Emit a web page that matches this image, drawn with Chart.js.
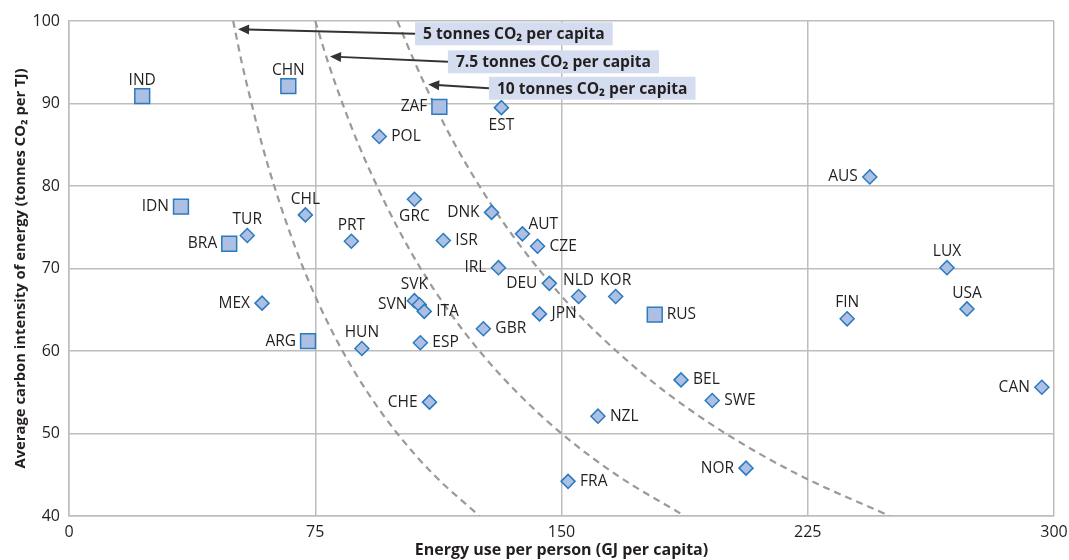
<!DOCTYPE html>
<html>
<head>
<meta charset="utf-8">
<script src="https://cdn.jsdelivr.net/npm/chart.js@4.4.1/dist/chart.umd.min.js"></script>
<style>
  html, body { margin: 0; padding: 0; background: #fff; }
  #wrap { width: 1069px; height: 560px; }
</style>
</head>
<body>
<div id="wrap"><canvas id="chart"></canvas></div>
<script>
// OECD countries (diamonds)
const oecdCodes = ["EST", "POL", "AUS", "CHL", "GRC", "DNK", "TUR", "PRT", "ISR", "AUT", "CZE", "IRL", "DEU", "NLD", "KOR", "LUX", "USA", "FIN", "MEX", "SVK", "SVN", "ITA", "JPN", "GBR", "HUN", "ESP", "BEL", "SWE", "CAN", "CHE", "NZL", "NOR", "FRA"];
const oecdEnergy = [131.7, 94.5, 243.9, 72.0, 105.2, 128.7, 54.3, 86.0, 114.0, 138.1, 142.7, 130.8, 146.3, 155.2, 166.5, 267.4, 273.5, 237.0, 58.8, 105.2, 106.7, 108.2, 143.3, 126.2, 89.2, 107.0, 186.4, 195.9, 296.3, 109.8, 161.1, 206.2, 152.0];
const oecdIntensity = [89.5, 86.0, 81.1, 76.5, 78.4, 76.8, 74.0, 73.3, 73.4, 74.2, 72.7, 70.1, 68.2, 66.6, 66.6, 70.1, 65.1, 63.9, 65.8, 66.1, 65.6, 64.8, 64.5, 62.7, 60.3, 61.0, 56.5, 54.0, 55.6, 53.8, 52.1, 45.8, 44.2];
const oecdLabelSide = ["below", "right", "left", "above", "below", "left", "above", "above", "right", "aboveright", "right", "left", "left", "above", "above", "above", "above", "above", "left", "above", "left", "right", "right", "right", "above", "right", "right", "right", "left", "left", "right", "left", "right"];

// partner economies (squares)
const partnerCodes = ["IND", "CHN", "ZAF", "IDN", "BRA", "ARG", "RUS"];
const partnerEnergy = [22.3, 66.8, 112.8, 34.1, 48.8, 72.8, 178.4];
const partnerIntensity = [90.9, 92.1, 89.6, 77.5, 73.0, 61.2, 64.4];
const partnerLabelSide = ["above", "above", "left", "left", "left", "left", "right"];

// iso-emission curves (tonnes CO2 per capita), read along the intensity steps
const curveLevels = ["5 tonnes CO₂ per capita", "7.5 tonnes CO₂ per capita", "10 tonnes CO₂ per capita"];
const curveIntensity = [100, 95, 90, 85, 80, 75, 70, 65, 60, 55, 50, 45, 40];
const curve5Energy = [50, 52.6, 55.6, 58.8, 62.5, 66.7, 71.4, 76.9, 83.3, 90.9, 100, 111.1, 125];
const curve75Energy = [75, 78.9, 83.3, 88.2, 93.8, 100, 107.1, 115.4, 125, 136.4, 150, 166.7, 187.5];
const curve10Energy = [100, 105.3, 111.1, 117.6, 125, 133.3, 142.9, 153.8, 166.7, 181.8, 200, 222.2, 250];

// annotation boxes: [box left x, box centre y] and arrow tip [x, y], in data units
const boxAnchors = [[105.4, 98.45], [115.4, 95.05], [127.9, 91.85]];
const arrowTips = [[51.5, 99.0], [79.5, 95.7], [109.4, 92.3]];

const FONT = "'Open Sans', 'Noto Sans', sans-serif";
const textColor = "#231f20";
const gridColor = "#bdbdbd";
const markerFill = "#adc0e4";
const markerBorder = "#2a7abf";
const curveColor = "#9a9a9a";

const toPoints = (xs, ys) => xs.map((x, i) => ({ x: x, y: ys[i] }));

const curveDataset = (xs) => ({
  type: "line",
  data: toPoints(xs, curveIntensity),
  showLine: true,
  borderColor: curveColor,
  borderWidth: 2.2,
  borderDash: [7, 5],
  pointRadius: 0,
  cubicInterpolationMode: "monotone",
  fill: false,
  order: 5,
});

const pointLabels = {
  id: "pointLabels",
  afterDatasetsDraw(chart) {
    const ctx = chart.ctx;
    const groups = [
      [0, oecdCodes, oecdLabelSide],
      [1, partnerCodes, partnerLabelSide],
    ];
    ctx.save();
    ctx.font = "15.5px " + FONT;
    ctx.fillStyle = textColor;
    groups.forEach(([idx, codes, sides]) => {
      chart.getDatasetMeta(idx).data.forEach((el, i) => {
        const side = sides[i];
        let x = el.x;
        let y = el.y;
        if (side === "right") {
          ctx.textAlign = "left"; ctx.textBaseline = "middle"; x += 12;
        } else if (side === "left") {
          ctx.textAlign = "right"; ctx.textBaseline = "middle"; x -= 12;
        } else if (side === "above") {
          ctx.textAlign = "center"; ctx.textBaseline = "bottom"; y -= 8;
        } else if (side === "below") {
          ctx.textAlign = "center"; ctx.textBaseline = "top"; y += 10;
        } else {
          ctx.textAlign = "left"; ctx.textBaseline = "bottom"; x += 6; y -= 2;
        }
        ctx.fillText(codes[i], x, y);
      });
    });
    ctx.restore();
  },
};

const curveNotes = {
  id: "curveNotes",
  afterDatasetsDraw(chart) {
    const ctx = chart.ctx;
    const xs = chart.scales.x;
    const ys = chart.scales.y;
    ctx.save();
    ctx.font = "bold 15.6px " + FONT;
    ctx.textBaseline = "middle";
    ctx.textAlign = "left";
    curveLevels.forEach((text, i) => {
      const bx = xs.getPixelForValue(boxAnchors[i][0]);
      const by = ys.getPixelForValue(boxAnchors[i][1]);
      const tx = xs.getPixelForValue(arrowTips[i][0]);
      const ty = ys.getPixelForValue(arrowTips[i][1]);
      const w = ctx.measureText(text).width + 16;
      ctx.fillStyle = "#d4ddef";
      ctx.fillRect(bx, by - 11.5, w, 23);
      ctx.fillStyle = textColor;
      ctx.fillText(text, bx + 8, by + 1);

      // arrow
      const ang = Math.atan2(ty - by, tx - bx);
      const hl = 11;
      ctx.strokeStyle = "#333";
      ctx.lineWidth = 2;
      ctx.beginPath();
      ctx.moveTo(bx, by);
      ctx.lineTo(tx - Math.cos(ang) * hl * 0.8, ty - Math.sin(ang) * hl * 0.8);
      ctx.stroke();
      ctx.fillStyle = "#333";
      ctx.beginPath();
      ctx.moveTo(tx, ty);
      ctx.lineTo(tx - hl * Math.cos(ang) + 5 * Math.sin(ang), ty - hl * Math.sin(ang) - 5 * Math.cos(ang));
      ctx.lineTo(tx - hl * Math.cos(ang) - 5 * Math.sin(ang), ty - hl * Math.sin(ang) + 5 * Math.cos(ang));
      ctx.closePath();
      ctx.fill();
    });
    ctx.restore();
  },
};

new Chart(document.getElementById("chart").getContext("2d"), {
  type: "scatter",
  data: {
    datasets: [
      {
        label: "OECD",
        data: toPoints(oecdEnergy, oecdIntensity),
        pointStyle: "rectRot",
        pointRadius: 7,
        backgroundColor: markerFill,
        borderColor: markerBorder,
        borderWidth: 1.5,
        order: 1,
      },
      {
        label: "Partners",
        data: toPoints(partnerEnergy, partnerIntensity),
        pointStyle: "rect",
        pointRadius: 10.5,
        backgroundColor: markerFill,
        borderColor: markerBorder,
        borderWidth: 1.5,
        order: 1,
      },
      curveDataset(curve5Energy),
      curveDataset(curve75Energy),
      curveDataset(curve10Energy),
    ],
  },
  options: {
    responsive: true,
    maintainAspectRatio: false,
    animation: false,
    layout: { padding: { top: 21, right: 15, left: 0, bottom: 0 } },
    plugins: {
      legend: { display: false },
      tooltip: { enabled: false },
    },
    scales: {
      x: {
        type: "linear",
        min: 0,
        max: 300,
        afterFit: (scale) => {
          scale.height = 44;
          scale.paddingLeft = 0;
          scale.paddingRight = 0;
        },
        grid: { color: gridColor, lineWidth: 1.5, drawTicks: false },
        border: { color: gridColor, width: 1.5 },
        ticks: { stepSize: 75, color: textColor, padding: 7, font: { family: FONT, size: 16 } },
        title: {
          display: true,
          text: "Energy use per person (GJ per capita)",
          color: textColor,
          padding: { top: 0, bottom: 0 },
          font: { family: FONT, size: 16, weight: "bold" },
        },
      },
      y: {
        min: 40,
        max: 100,
        afterFit: (scale) => { scale.width = 69; },
        grid: { color: gridColor, lineWidth: 1.5, drawTicks: false },
        border: { color: gridColor, width: 1.5 },
        ticks: { stepSize: 10, color: textColor, padding: 9, font: { family: FONT, size: 16 } },
        title: {
          display: true,
          text: "Average carbon intensity of energy (tonnes CO₂ per TJ)",
          color: textColor,
          padding: { top: 12, bottom: 0 },
          font: { family: FONT, size: 14.8, weight: "bold" },
        },
      },
    },
  },
  plugins: [pointLabels, curveNotes],
});
</script>
</body>
</html>
